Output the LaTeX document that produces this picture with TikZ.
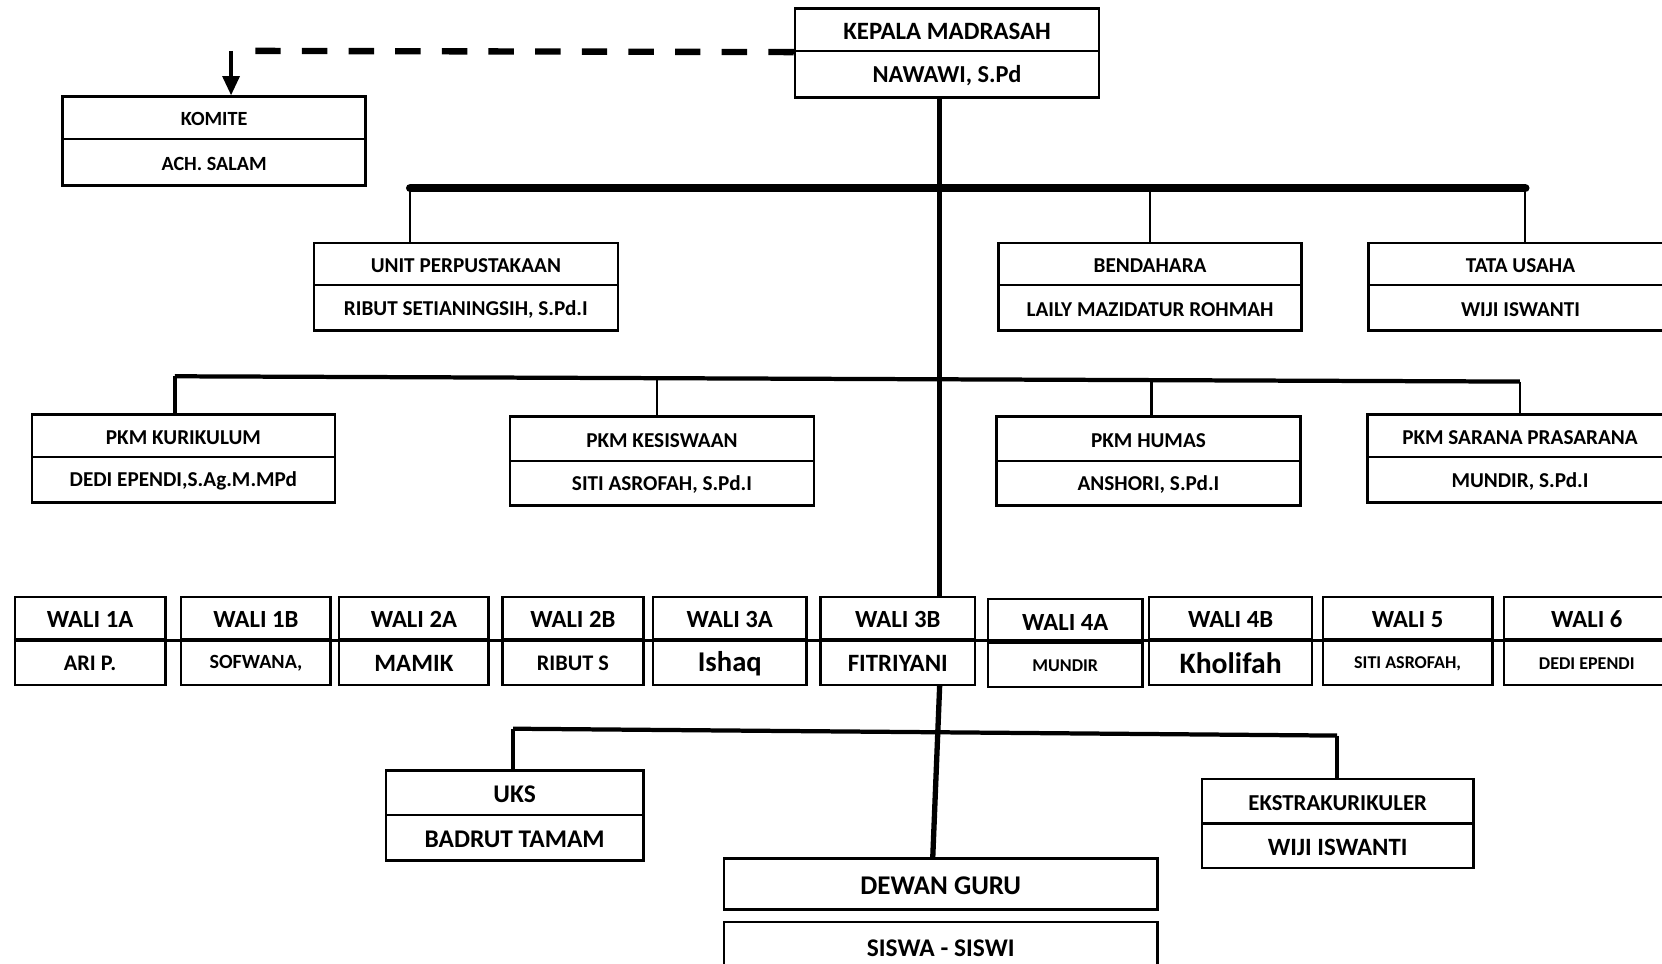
\documentclass[tikz,border=0pt]{standalone}
\usepackage{fontspec}
\setmainfont{Carlito}
\usetikzlibrary{arrows.meta}
\newcommand\fs[1]{\fontsize{#1}{#1}\selectfont}
\newcommand\lowtxt[1]{\raisebox{-1.5pt}[\height][\depth]{#1}}
\tikzset{
  cell/.style={draw=black, line width=2.3pt, fill=white, inner sep=0pt, font=\bfseries, align=center},
  thinlink/.style={draw=black, line width=2.2pt},
  midlink/.style={draw=black, line width=3.5pt},
  trunkline/.style={draw=black, line width=5pt},
  bigbar/.style={draw=black, line width=8pt, line cap=round},
  midbar/.style={draw=black, line width=4pt},
  dashlink/.style={draw=black, line width=6pt, dash pattern=on 24pt off 20pt},
  arrowlink/.style={draw=black, line width=3pt, -{Triangle[width=16pt,length=18pt]}},
}
% name, x1, x2, y1, ymid, y2, top text, bottom text
\newcommand\twobox[8]{%
  \node[cell, minimum width={(#3-#2)*1pt}, minimum height={(#5-#4)*1pt}] (#1t) at ({(#2+#3)/2},{(#4+#5)/2}) {\lowtxt{#7}};
  \node[cell, minimum width={(#3-#2)*1pt}, minimum height={(#6-#5)*1pt}] (#1b) at ({(#2+#3)/2},{(#5+#6)/2}) {\lowtxt{#8}};}
\begin{document}
\begin{tikzpicture}[x=1pt, y=-1pt]
\useasboundingbox (0,0) rectangle (1568,909);
\clip (0,0) rectangle (1568,909);
\fill[white] (0,0) rectangle (1568,909);

% top
\twobox{kep}{750}{1037}{8}{48}{92}{\fs{23.5}KEPALA MADRASAH}{\fs{23}NAWAWI, S.Pd}
\twobox{kom}{59}{345}{91}{131}{175}{\fs{19}KOMITE}{\fs{19}ACH. SALAM}

% row 1
\twobox{upt}{296}{583}{229}{269}{312}{\fs{20}UNIT PERPUSTAKAAN}{\fs{20}RIBUT SETIANINGSIH, S.Pd.I}
\twobox{ben}{942}{1228}{229}{269}{312}{\fs{20}BENDAHARA}{\fs{20}LAILY MAZIDATUR ROHMAH}
\twobox{tata}{1291}{1578}{229}{269}{312}{\fs{20}TATA USAHA}{\fs{20}WIJI ISWANTI}

% row 2
\twobox{kur}{30}{316}{391}{431}{474}{\fs{20}PKM KURIKULUM}{\fs{20}DEDI EPENDI,S.Ag.M.MPd}
\twobox{kes}{481}{768}{393}{435}{477}{\fs{20}PKM KESISWAAN}{\fs{20}SITI ASROFAH, S.Pd.I}
\twobox{hum}{940}{1227}{393}{435}{477}{\fs{20}PKM HUMAS}{\fs{20}ANSHORI, S.Pd.I}
\twobox{sar}{1290}{1578}{391}{431}{474}{\fs{20}PKM SARANA PRASARANA}{\fs{20}MUNDIR, S.Pd.I}

% wali row
\twobox{wa}{14}{156}{563}{603}{646}{\fs{23.3}WALI 1A}{\fs{21}ARI P.}
\twobox{wb}{171}{312}{563}{603}{646}{\fs{23.3}WALI 1B}{\fs{19}SOFWANA,}
\twobox{wc}{320}{461}{563}{603}{646}{\fs{23.3}WALI 2A}{\fs{23.5}MAMIK}
\twobox{wd}{474}{607}{563}{603}{646}{\fs{23.3}WALI 2B}{\fs{21}RIBUT S}
\twobox{we}{616}{761}{563}{603}{646}{\fs{23.3}WALI 3A}{\fs{27}Ishaq}
\twobox{wf}{774}{920}{563}{603}{646}{\fs{23.3}WALI 3B}{\fs{23.5}FITRIYANI}
\twobox{wg}{932}{1078}{565}{606}{648}{\fs{23.3}WALI 4A}{\fs{17}MUNDIR}
\twobox{wh}{1084}{1238}{563}{603}{646}{\fs{23.3}WALI 4B}{\fs{28}Kholifah}
\twobox{wi}{1248}{1408}{563}{603}{646}{\fs{23.3}WALI 5}{\fs{17}SITI ASROFAH,}
\twobox{wj}{1419}{1575}{563}{603}{646}{\fs{23.3}WALI 6}{\fs{17}DEDI EPENDI}

% bottom
\twobox{uks}{364}{607}{727}{769}{812}{\fs{24}UKS}{\fs{24}BADRUT TAMAM}
\twobox{eks}{1134}{1390}{735}{777}{819}{\fs{21.5}EKSTRAKURIKULER}{\fs{23.5}WIJI ISWANTI}
\node[cell, minimum width=409pt, minimum height=48pt] (dewan) at (887.5,834) {\lowtxt{\fs{25.5}DEWAN GURU}};
\node[cell, minimum width=409pt, minimum height=46pt] (siswa) at (887.5,893) {\lowtxt{\fs{24}SISWA - SISWI}};

% connectors
\coordinate (tx) at (886.5,0);
\coordinate (tx2) at (880,0);
\draw[trunkline] (kepb.south -| tx) -- (wft.north -| tx);
\draw[trunkline] (wfb.south -| tx) -- (dewan.north -| tx2);

\coordinate (dl) at (236,48);
\coordinate (al) at (218,48);
\draw[dashlink] (kept.south west) -- (dl);
\draw[arrowlink] (al) -- (komt.north -| al);

\coordinate (b1l) at (387,177.5);
\coordinate (b1r) at (1439,177.5);
\draw[bigbar] (b1l) -- (b1r);
\draw[thinlink] (b1l) -- (uptt.north -| b1l);
\draw[thinlink] (bent.north |- b1l) -- (bent.north);
\draw[thinlink] (b1r) -- (tatat.north -| b1r);

\coordinate (b2l) at (165,355);
\coordinate (b2r) at (1434,360);
\coordinate (v2) at (620,356.5);
\coordinate (v3) at (1086.5,359);
\draw[midbar] (b2l) -- (b2r);
\draw[midlink] (b2l) -- (kurt.north -| b2l);
\draw[thinlink] (v2) -- (kest.north -| v2);
\draw[thinlink] (v3) -- (humt.north -| v3);
\draw[thinlink] (b2r) -- (sart.north -| b2r);

\draw[thinlink] (wat.south west) -- (wjt.south east);

\coordinate (b3l) at (484,687.5);
\coordinate (b3r) at (1261.5,694);
\draw[midbar] (b3l) -- (b3r);
\draw[midbar] (b3l) -- (ukst.north -| b3l);
\draw[midbar] (b3r) -- (ekst.north -| b3r);
\end{tikzpicture}
\end{document}
